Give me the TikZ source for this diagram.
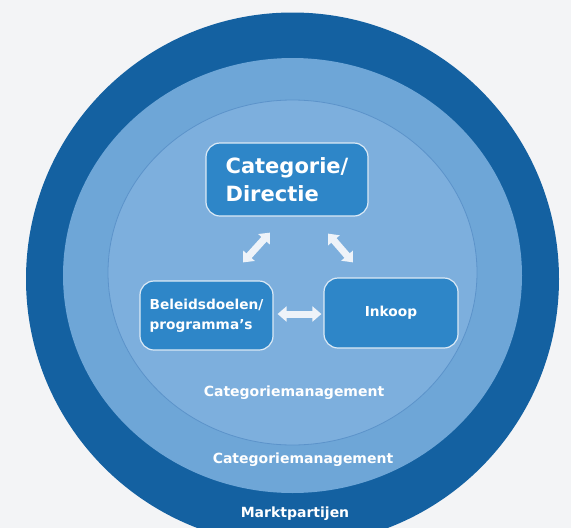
\documentclass[tikz,border=0pt]{standalone}
\usepackage{fontspec}
\setmainfont{DejaVu Sans}
\usepackage{tikz}
\usetikzlibrary{calc}
\usetikzlibrary{positioning,arrows.meta}
\definecolor{bggrey}{HTML}{F3F4F6}
\definecolor{ringdark}{HTML}{1461A1}
\definecolor{ringmid}{HTML}{6EA6D7}
\definecolor{ringin}{HTML}{7DAFDD}
\definecolor{ringline}{HTML}{5C93CA}
\definecolor{boxblue}{HTML}{2E86C8}
\definecolor{boxline}{HTML}{DCEAF6}
\definecolor{arrowwhite}{HTML}{EEF3F9}

\begin{document}
\begin{tikzpicture}[x=1pt,y=-1pt,node distance=10mm,on grid,
		unit/.style={rectangle,rounded corners=14pt,draw=boxline,line width=1.2pt,fill=boxblue,text=white,align=left,inner sep=0pt,
			font=\bfseries\fontsize{13.7}{20}\selectfont},
		ringlabel/.style={text=white,font=\bfseries\fontsize{14}{16}\selectfont},
		link/.style={arrowwhite,line width=7pt,{Triangle[length=9pt,width=15pt]}-{Triangle[length=9pt,width=15pt]}}]
		\fill[bggrey] (0,0) rectangle (571,528);
		\useasboundingbox (0,0) rectangle (571,528);
		
		\fill[ringdark] (292.5,279) circle (266.5);
		\fill[ringmid] (292.5,275.5) ellipse [x radius=229.5, y radius=217.5];
		\draw[ringline,fill=ringin,line width=0.8pt] (292.5,272.5) ellipse [x radius=184.5, y radius=172.5];
		
		\node[unit,minimum width=162pt,minimum height=73pt,font=\bfseries\fontsize{21}{28}\selectfont]
			(cat) at (287,179.5) {Categorie/\\Directie};
		\node[unit,minimum width=133pt,minimum height=69pt] (beleid) [below=136pt of cat,xshift=-80.5pt] {Beleidsdoelen/\\programma's};
		\node[unit,minimum width=134pt,minimum height=70pt,align=center] (inkoop) [right=184.5pt of beleid,yshift=2.5pt] {Inkoop};
		
		\node[ringlabel] (inner)  at (294,393) {Categoriemanagement};
		\node[ringlabel] (middle) at (303,460) {Categoriemanagement};
		\node[ringlabel] (outer)  at (295,514) {Marktpartijen};
		
		\draw[link] ($(beleid.north)+(36.5,-18)$) -- ($(cat.south)+(-17,16)$);
		\draw[link] ($(cat.south)+(41,17)$) -- ($(inkoop.north)+(-38,-15)$);
		\draw[link] ($(beleid.east)+(4,-1.5)$) -- ($(inkoop.west)+(-2,1)$);
\end{tikzpicture}
\end{document}
